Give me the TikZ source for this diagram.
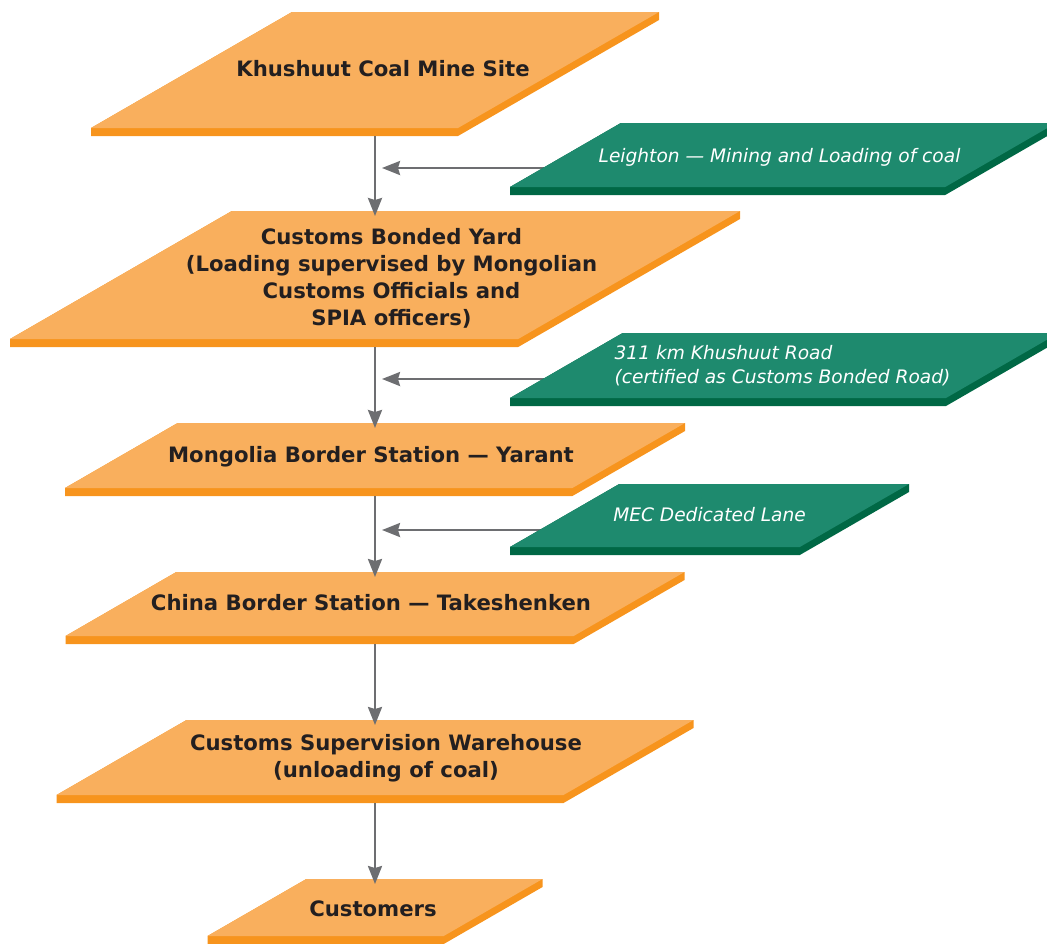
\documentclass[tikz,border=0pt]{standalone}
\usepackage{fontspec}
\setmainfont{DejaVu Sans}
\usetikzlibrary{arrows.meta,backgrounds}

\definecolor{facecol}{RGB}{249,175,93}
\definecolor{slabcol}{RGB}{247,148,29}
\definecolor{notecol}{RGB}{30,138,110}
\definecolor{noteslab}{RGB}{0,104,69}
\definecolor{inkcol}{RGB}{35,31,32}
\definecolor{flowcol}{RGB}{109,110,113}

\begin{document}
\begin{tikzpicture}[x=0.5pt, y=-0.5pt,
    stage/.style={rectangle, inner sep=0pt, outer sep=0pt},
    tag/.style={inner sep=0pt, align=center, text=inkcol,
        font=\fontsize{10.6}{13.5}\selectfont\bfseries},
    ntag/.style={inner sep=0pt, align=center, text=white,
        font=\fontsize{9.3}{12}\selectfont\itshape},
    flow/.style={flowcol, line width=1.2pt, -{Stealth[length=9pt, width=7pt, inset=1pt]}}]
            \useasboundingbox (0,0) rectangle (1047,943);

            % stations (the box of each top face)
            \node[stage, minimum width=284pt, minimum height=58pt] (mine) at (375,70) {};
            \node[stage, minimum width=365pt, minimum height=64pt] (yard) at (375,275) {};
            \node[stage, minimum width=310pt, minimum height=32.5pt] (yarant) at (375,455.5) {};
            \node[stage, minimum width=309.5pt, minimum height=32pt] (takesh) at (375,604) {};
            \node[stage, minimum width=318.5pt, minimum height=37.5pt] (depot) at (375,757.5) {};
            \node[stage, minimum width=167.5pt, minimum height=28.5pt] (buyers) at (375,907.5) {};

            % side notes
            \node[stage, minimum width=273pt, minimum height=32pt] (lead) at (783,155) {};
            \node[stage, minimum width=274.3pt, minimum height=32.5pt] (road) at (784.3,365.5) {};
            \node[stage, minimum width=199.5pt, minimum height=31.5pt] (lane) at (709.5,515.5) {};

            % slanted slabs, 30 degree sides
            \fill[slabcol] ([xshift=100.5pt]mine.north west) -- (mine.north east) -- ([yshift=-4pt]mine.north east) -- ([shift={(-100.5pt,-4pt)}]mine.south east) -- ([yshift=-4pt]mine.south west) -- (mine.south west) -- cycle;
            \fill[facecol] (mine.south west) -- ([xshift=-100.5pt]mine.south east) -- (mine.north east) -- ([xshift=100.5pt]mine.north west) -- cycle;

            \fill[slabcol] ([xshift=110.9pt]yard.north west) -- (yard.north east) -- ([yshift=-4pt]yard.north east) -- ([shift={(-110.9pt,-4pt)}]yard.south east) -- ([yshift=-4pt]yard.south west) -- (yard.south west) -- cycle;
            \fill[facecol] (yard.south west) -- ([xshift=-110.9pt]yard.south east) -- (yard.north east) -- ([xshift=110.9pt]yard.north west) -- cycle;

            \fill[slabcol] ([xshift=56.3pt]yarant.north west) -- (yarant.north east) -- ([yshift=-4pt]yarant.north east) -- ([shift={(-56.3pt,-4pt)}]yarant.south east) -- ([yshift=-4pt]yarant.south west) -- (yarant.south west) -- cycle;
            \fill[facecol] (yarant.south west) -- ([xshift=-56.3pt]yarant.south east) -- (yarant.north east) -- ([xshift=56.3pt]yarant.north west) -- cycle;

            \fill[slabcol] ([xshift=55.4pt]takesh.north west) -- (takesh.north east) -- ([yshift=-4pt]takesh.north east) -- ([shift={(-55.4pt,-4pt)}]takesh.south east) -- ([yshift=-4pt]takesh.south west) -- (takesh.south west) -- cycle;
            \fill[facecol] (takesh.south west) -- ([xshift=-55.4pt]takesh.south east) -- (takesh.north east) -- ([xshift=55.4pt]takesh.north west) -- cycle;

            \fill[slabcol] ([xshift=65pt]depot.north west) -- (depot.north east) -- ([yshift=-4pt]depot.north east) -- ([shift={(-65pt,-4pt)}]depot.south east) -- ([yshift=-4pt]depot.south west) -- (depot.south west) -- cycle;
            \fill[facecol] (depot.south west) -- ([xshift=-65pt]depot.south east) -- (depot.north east) -- ([xshift=65pt]depot.north west) -- cycle;

            \fill[slabcol] ([xshift=49.4pt]buyers.north west) -- (buyers.north east) -- ([yshift=-4pt]buyers.north east) -- ([shift={(-49.4pt,-4pt)}]buyers.south east) -- ([yshift=-4pt]buyers.south west) -- (buyers.south west) -- cycle;
            \fill[facecol] (buyers.south west) -- ([xshift=-49.4pt]buyers.south east) -- (buyers.north east) -- ([xshift=49.4pt]buyers.north west) -- cycle;

            \fill[noteslab] ([xshift=55.4pt]lead.north west) -- (lead.north east) -- ([yshift=-4pt]lead.north east) -- ([shift={(-55.4pt,-4pt)}]lead.south east) -- ([yshift=-4pt]lead.south west) -- (lead.south west) -- cycle;
            \fill[notecol] (lead.south west) -- ([xshift=-55.4pt]lead.south east) -- (lead.north east) -- ([xshift=55.4pt]lead.north west) -- cycle;

            \fill[noteslab] ([xshift=56.3pt]road.north west) -- (road.north east) -- ([yshift=-4pt]road.north east) -- ([shift={(-56.3pt,-4pt)}]road.south east) -- ([yshift=-4pt]road.south west) -- (road.south west) -- cycle;
            \fill[notecol] (road.south west) -- ([xshift=-56.3pt]road.south east) -- (road.north east) -- ([xshift=56.3pt]road.north west) -- cycle;

            \fill[noteslab] ([xshift=54.6pt]lane.north west) -- (lane.north east) -- ([yshift=-4pt]lane.north east) -- ([shift={(-54.6pt,-4pt)}]lane.south east) -- ([yshift=-4pt]lane.south west) -- (lane.south west) -- cycle;
            \fill[notecol] (lane.south west) -- ([xshift=-54.6pt]lane.south east) -- (lane.north east) -- ([xshift=54.6pt]lane.north west) -- cycle;

            % labels
            \node[tag] (mine-t) at (383,69) {Khushuut Coal Mine Site};
            \node[tag] (yard-t) at (391.5,278) {Customs Bonded Yard\\(Loading supervised by Mongolian\\Customs Officials and\\SPIA officers)};
            \node[tag] (yarant-t) at (371,457) {Mongolia Border Station — Yarant};
            \node[tag] (takesh-t) at (371,603) {China Border Station — Takeshenken};
            \node[tag] (depot-t) at (386,758.5) {Customs Supervision Warehouse\\(unloading of coal)};
            \node[tag] (buyers-t) at (373,908.5) {Customers};

            \node[ntag] (lead-t) at (779.5,157.5) {Leighton — Mining and Loading of coal};
            \node[ntag, align=left] (road-t) at (782.5,365.5) {311 km Khushuut Road\\(certified as Customs Bonded Road)};
            \node[ntag] (lane-t) at (709.5,514.5) {MEC Dedicated Lane};

            \coordinate (leadtip) at (382,168);
            \coordinate (roadtip) at (382,379);
            \coordinate (lanetip) at (382,530);

            % flow down the chain
            \draw[flow] ([yshift=-4pt]mine.south) -- ([yshift=-2.5pt]yard.north);
            \draw[flow] ([yshift=-4pt]yard.south) -- ([yshift=-2.5pt]yarant.north);
            \draw[flow] ([yshift=-4pt]yarant.south) -- ([yshift=-2.5pt]takesh.north);
            \draw[flow] ([yshift=-4pt]takesh.south) -- ([yshift=-2.5pt]depot.north);
            \draw[flow] ([yshift=-4pt]depot.south) -- ([yshift=-2.5pt]buyers.north);

            \begin{scope}[on background layer]
            \draw[flow] (lead.center |- leadtip) -- (leadtip);
            \draw[flow] (road.center |- roadtip) -- (roadtip);
            \draw[flow] (lane.center |- lanetip) -- (lanetip);
            \end{scope}
        \end{tikzpicture}
\end{document}
